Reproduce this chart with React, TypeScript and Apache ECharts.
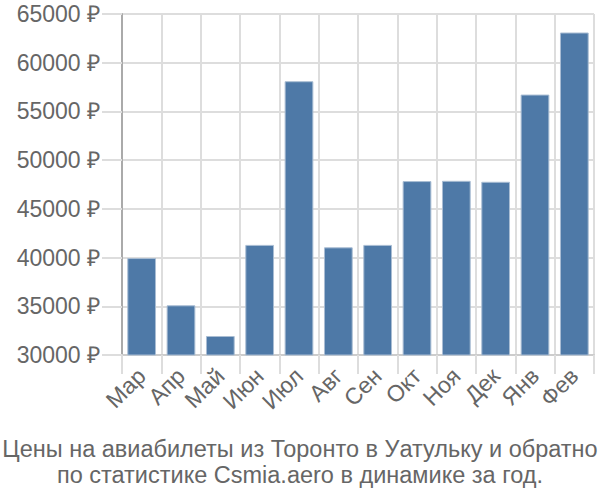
import React, { useEffect, useRef } from "react";
import * as echarts from "echarts";

const categories = ["Мар", "Апр", "Май", "Июн", "Июл", "Авг", "Сен", "Окт", "Ноя", "Дек", "Янв", "Фев"];
const prices = [39950, 35100, 31950, 41300, 58100, 41050, 41300, 47850, 47880, 47780, 56730, 63100];
const titleLines = [
  "Цены на авиабилеты из Торонто в Уатульку и обратно",
  "по статистике Csmia.aero в динамике за год.",
];

export default function App() {
  const ref = useRef<HTMLDivElement>(null);
  useEffect(() => {
    if (!ref.current) return;
    const chart = echarts.init(ref.current, undefined, { renderer: "svg" });
    const font = "Liberation Sans";
    chart.setOption({
      animation: false,
      textStyle: { fontFamily: font },
      title: {
        text: titleLines.join("\n"),
        left: "center",
        top: 431,
        textStyle: { fontSize: 23.5, fontWeight: "normal", color: "#666", lineHeight: 26, fontFamily: font },
      },
      grid: { left: 122, right: 6, top: 14, bottom: 145, containLabel: false },
      xAxis: {
        type: "category",
        data: categories,
        axisLine: { show: true, lineStyle: { color: "#ccc", width: 2 } },
        axisTick: { show: true, length: 19, alignWithLabel: false, lineStyle: { color: "#ddd", width: 2 } },
        splitLine: { show: true, lineStyle: { color: "#ddd", width: 2 } },
        axisLabel: { rotate: 45, interval: 0, fontSize: 23, color: "#666", margin: 17, fontFamily: font },
      },
      yAxis: {
        type: "value",
        min: 30000,
        max: 65000,
        interval: 5000,
        axisLine: { show: true, lineStyle: { color: "#aaa", width: 2 } },
        axisTick: { show: true, length: 20, lineStyle: { color: "#ddd", width: 2 } },
        splitLine: { show: true, lineStyle: { color: "#ddd", width: 2 } },
        axisLabel: {
          fontSize: 23,
          color: "#666",
          margin: 22,
          formatter: (v: number) => String(v) + " ₽",
          fontFamily: font,
        },
      },
      series: [
        {
          type: "bar",
          data: prices,
          barCategoryGap: "27%",
          itemStyle: { color: "#4e79a7", borderColor: "#a9bdd3", borderWidth: 1 },
        },
      ],
    });
    return () => chart.dispose();
  }, []);
  return <div ref={ref} style={{ width: 600, height: 500, position: "absolute", left: 0, top: 0 }} />;
}
